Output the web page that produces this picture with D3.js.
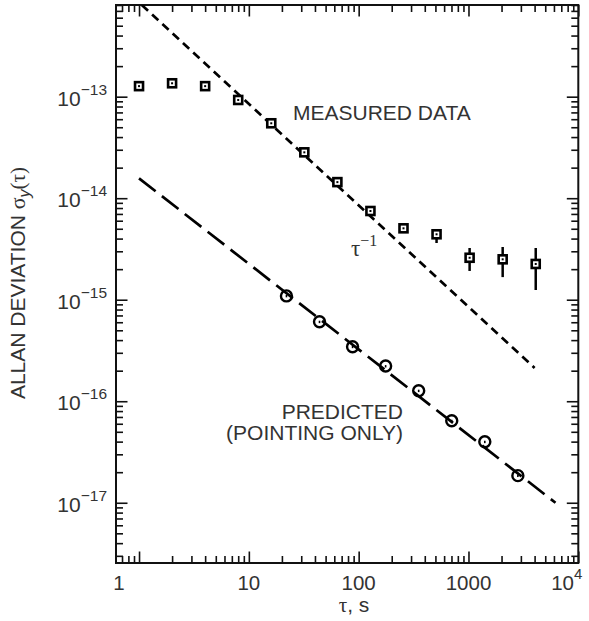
<!DOCTYPE html>
<html><head><meta charset="utf-8">
<script src="https://cdn.jsdelivr.net/npm/d3@7"></script>
<style>body{margin:0;background:#fff}</style></head>
<body><svg id="c" width="589" height="621"></svg>
<script>
// ---- data ----
const measuredTau   = [1, 2, 4, 8, 16, 32, 64, 128, 256, 512, 1024, 2048, 4096];
const measuredSigma = [1.27e-13, 1.355e-13, 1.27e-13, 9.28e-14, 5.47e-14, 2.83e-14, 1.44e-14, 7.48e-15, 5.05e-15, 4.41e-15, 2.59e-15, 2.50e-15, 2.25e-15];
const measuredErrLow  = [null, null, null, null, null, null, null, null, null, 3.62e-15, 1.92e-15, 1.67e-15, 1.25e-15];
const measuredErrHigh = [null, null, null, null, null, null, null, null, null, 4.98e-15, 3.24e-15, 3.31e-15, 3.24e-15];
const predictedTau   = [22, 44, 88, 176, 352, 704, 1408, 2816];
const predictedSigma = [1.09e-15, 6.07e-16, 3.44e-16, 2.22e-16, 1.27e-16, 6.42e-17, 3.99e-17, 1.85e-17];
const tauLineX = [1.06, 4000];
const tauLineY = [8.0e-13, 2.13e-16];
const predLineX = [1.0, 6200];
const predLineY = [1.57e-14, 1.0e-17];
const xTickValues = [1, 10, 100, 1000, 10000];
const xTickLabels = ["1", "10", "100", "1000", "10"];
const xTickSup    = ["", "", "", "", "4"];
const yTickValues = [1e-13, 1e-14, 1e-15, 1e-16, 1e-17];
const yTickSup    = ["\u221213", "\u221214", "\u221215", "\u221216", "\u221217"];

// ---- layout ----
const L = 116, R = 578.3, T = 5, B = 563;
const svg = d3.select("#c");
const x = d3.scaleLog().domain([0.617, 10000]).range([L, R]);
const y = d3.scaleLog().domain([8.0e-13, 2.55e-18]).range([T, B]);
const FONT = "'Liberation Sans', Arial, Helvetica, sans-serif";
const SERIF = "'Liberation Serif', 'Times New Roman', serif";
const TXT = "#333";

svg.append("defs").append("clipPath").attr("id","clip")
  .append("rect").attr("x",L).attr("y",T).attr("width",R-L).attr("height",B-T);

// ---- ticks on all four sides, pointing inward ----
const xAll = x.ticks().filter(v => v >= 0.617 && v <= 10000);
const yAll = y.ticks().filter(v => v <= 8.0e-13 && v >= 2.55e-18);
const isMajor = v => Math.abs(Math.log10(v) - Math.round(Math.log10(v))) < 1e-6;
const xMin = xAll.filter(v => !isMajor(v)), xMaj = xAll.filter(isMajor);
const yMin = yAll.filter(v => !isMajor(v)), yMaj = yAll.filter(isMajor);

function drawAxis(gen, scale, vals, size, tr) {
  const g = svg.append("g").attr("transform", tr)
    .call(gen(scale).tickValues(vals).tickSize(size).tickFormat(""));
  g.select(".domain").remove();
  g.selectAll("line").attr("stroke","#111").attr("stroke-width",1.6);
}
[[xMin,7],[xMaj,11.5]].forEach(([v,s]) => {
  drawAxis(d3.axisBottom, x, v, -s, `translate(0,${B})`);
  drawAxis(d3.axisTop, x, v, -s, `translate(0,${T})`);
});
[[yMin,7],[yMaj,11.5]].forEach(([v,s]) => {
  drawAxis(d3.axisLeft, y, v, -s, `translate(${L},0)`);
  drawAxis(d3.axisRight, y, v, -s, `translate(${R},0)`);
});

svg.append("rect").attr("x",L).attr("y",T).attr("width",R-L).attr("height",B-T)
  .attr("fill","none").attr("stroke","#111").attr("stroke-width",2);

// ---- tick labels ----
const xl = svg.append("g").attr("font-family",FONT).attr("fill",TXT).attr("font-size",20.5);
xTickValues.forEach((v,i) => {
  let px = x(v), anchor = "middle";
  if (i === 0) px = x(v) - 20;
  if (i === xTickValues.length-1) { px = x(v) + 4; anchor = "end"; }
  const t = xl.append("text").attr("x",px).attr("y",590).attr("text-anchor",anchor);
  t.append("tspan").text(xTickLabels[i]);
  if (xTickSup[i]) t.append("tspan").attr("dy",-11).attr("font-size",15).text(xTickSup[i]);
});
const yl = svg.append("g").attr("font-family",FONT).attr("fill",TXT).attr("font-size",21);
yTickValues.forEach((v,i) => {
  const t = yl.append("text").attr("x",107).attr("y",y(v)+9).attr("text-anchor","end");
  t.append("tspan").text("10");
  t.append("tspan").attr("dy",-11).attr("font-size",15.5).text(yTickSup[i]);
});

// ---- axis titles ----
svg.append("text").attr("x",354).attr("y",612).attr("text-anchor","middle")
  .attr("font-family",FONT).attr("font-size",21).attr("fill",TXT)
  .call(t => { t.append("tspan").attr("font-family",SERIF).attr("font-size",21).text("\u03c4"); t.append("tspan").text(", s"); });

const yt = svg.append("text").attr("transform","translate(25,283) rotate(-90)")
  .attr("text-anchor","middle").attr("font-family",FONT).attr("font-size",21).attr("fill",TXT);
yt.append("tspan").text("ALLAN DEVIATION ");
yt.append("tspan").attr("font-family",SERIF).attr("font-size",22).text("\u03c3");
yt.append("tspan").attr("font-style","italic").attr("font-size",16).attr("dy",5).text("y");
yt.append("tspan").attr("dy",-5).attr("font-family",SERIF).attr("font-size",21).text("(\u03c4)");

// ---- fit lines ----
const lineGen = d3.line().x(d => x(d[0])).y(d => y(d[1]));
const plot = svg.append("g").attr("clip-path","url(#clip)");
plot.append("path").datum(d3.zip(tauLineX, tauLineY)).attr("d", lineGen)
  .attr("fill","none").attr("stroke","#000").attr("stroke-width",2.7).attr("stroke-dasharray","8.5,5.5");
plot.append("path").datum(d3.zip(predLineX, predLineY)).attr("d", lineGen)
  .attr("fill","none").attr("stroke","#000").attr("stroke-width",2.7).attr("stroke-dasharray","21,8");

// ---- error bars ----
measuredTau.forEach((t,i) => {
  if (measuredErrLow[i] == null) return;
  plot.append("line").attr("x1",x(t)).attr("x2",x(t))
    .attr("y1",y(measuredErrLow[i])).attr("y2",y(measuredErrHigh[i]))
    .attr("stroke","#000").attr("stroke-width",2.5);
});

// ---- measured squares ----
const sq = plot.append("g").selectAll("g").data(d3.zip(measuredTau, measuredSigma)).join("g")
  .attr("transform", d => `translate(${x(d[0])},${y(d[1])})`);
sq.append("rect").attr("x",-4).attr("y",-4).attr("width",8).attr("height",8)
  .attr("fill","#fff").attr("stroke","#000").attr("stroke-width",2.6);
sq.append("rect").attr("x",-1).attr("y",-1).attr("width",2).attr("height",2).attr("fill","#000");

// ---- predicted circles ----
const ci = plot.append("g").selectAll("g").data(d3.zip(predictedTau, predictedSigma)).join("g")
  .attr("transform", d => `translate(${x(d[0])},${y(d[1])})`);
ci.append("circle").attr("r",5.5).attr("fill","none").attr("stroke","#000").attr("stroke-width",2.4);
ci.append("rect").attr("x",-0.8).attr("y",-1).attr("width",1.6).attr("height",2.4).attr("fill","#000");

// ---- annotations ----
svg.append("text").attr("x",293).attr("y",120).attr("font-family",FONT).attr("font-size",21)
  .attr("fill",TXT).text("MEASURED DATA");
const ann = svg.append("text").attr("x",351).attr("y",256).attr("font-family",SERIF)
  .attr("font-size",23).attr("fill","#333");
ann.append("tspan").text("\u03c4");
ann.append("tspan").attr("dy",-10).attr("font-size",16).text("\u22121");
svg.append("text").attr("x",403).attr("y",419).attr("text-anchor","end").attr("font-family",FONT)
  .attr("font-size",21).attr("fill",TXT).text("PREDICTED");
svg.append("text").attr("x",403).attr("y",440).attr("text-anchor","end").attr("font-family",FONT)
  .attr("font-size",21).attr("fill",TXT).text("(POINTING ONLY)");
</script></body></html>
